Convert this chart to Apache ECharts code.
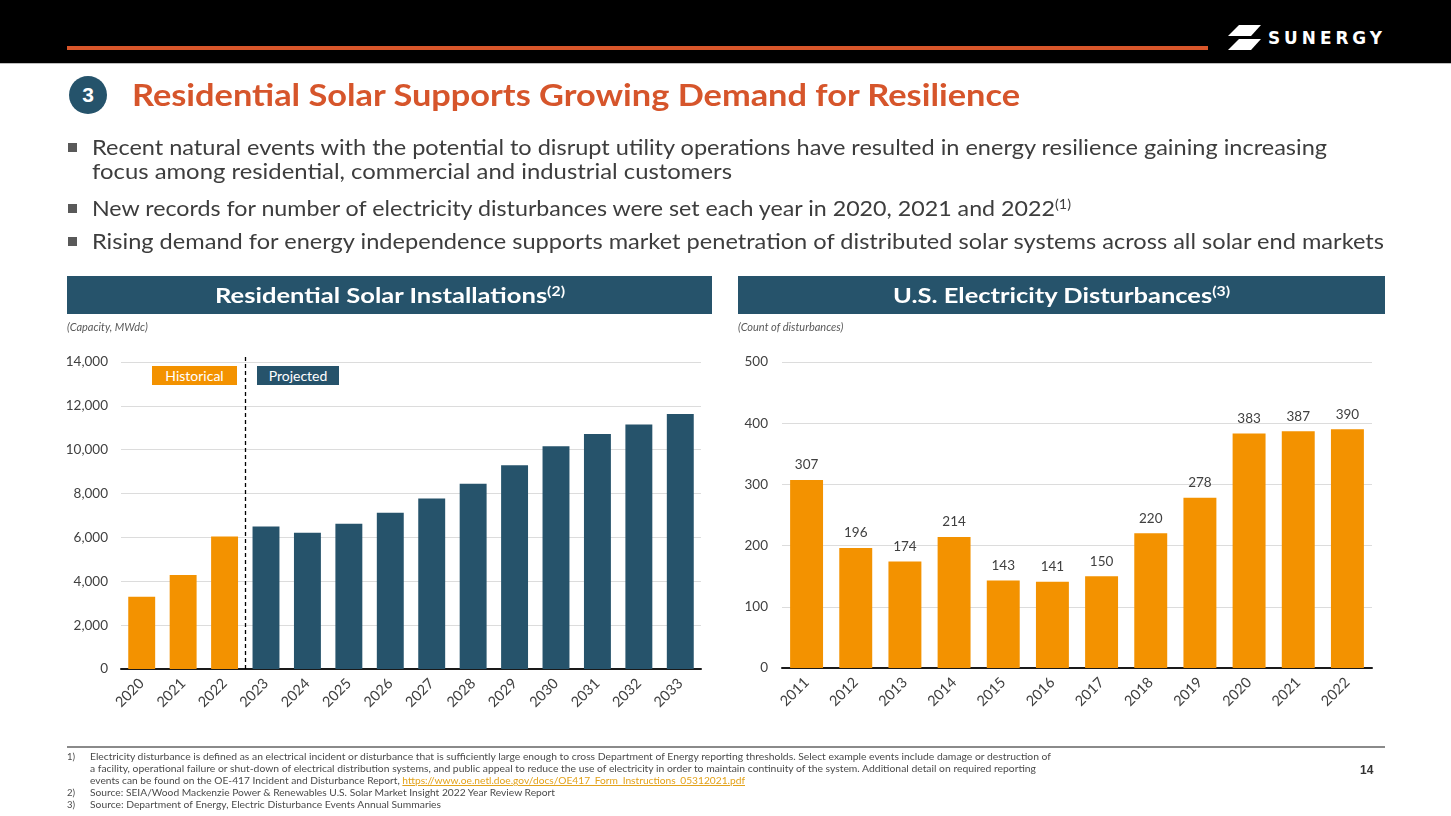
<!DOCTYPE html>
<html>
<head>
<meta charset="utf-8">
<script src="https://cdn.jsdelivr.net/npm/echarts@6/dist/echarts.min.js"></script>
<style>
  html, body { margin: 0; padding: 0; background: #fff; }
  body { width: 1451px; height: 816px; position: relative; overflow: hidden; font-family: Lato, "Noto Sans", sans-serif; }
  #chart { position: absolute; left: 0; top: 0; width: 1451px; height: 816px; }
  .abs { position: absolute; white-space: nowrap; }
  .fit { transform-origin: 0 50%; display: inline-block; }
  #band { left: 0; top: 0; width: 1451px; height: 63px; background: #000; border-bottom: 1px solid #bdbdbd; }
  #rule { left: 67px; top: 46px; width: 1141px; height: 4px; background: #d9562a; }
  #logo { left: 1268px; top: 26px; color: #fff; font-family: "DejaVu Sans", sans-serif; font-weight: bold; font-size: 17px; line-height: 24px; }
  #icon { left: 1228px; top: 25px; }
  #badge { left: 69px; top: 76px; width: 38px; height: 38px; border-radius: 50%; background: #25536b; color: #fff; font-weight: bold; font-size: 21px; line-height: 38px; text-align: center; font-family: "Liberation Sans", Arial, sans-serif; }
  #title { left: 132px; top: 74px; color: #d6552b; font-weight: bold; font-size: 31px; line-height: 40px; }
  .bullet { left: 68px; width: 9px; height: 9px; background: #595959; }
  .bl { left: 92px; color: #3d3d3d; font-size: 21px; line-height: 26px; }
  .bl sup, .ph sup { font-size: 0.62em; vertical-align: 0; position: relative; top: -0.55em; }
  .panel { top: 276px; height: 38px; background: #26536b; }
  .ph { color: #fff; font-weight: bold; font-size: 21px; line-height: 38px; top: 276px; }
  .unit { top: 319px; font-style: italic; font-size: 11px; color: #595959; line-height: 16px; }
  #footrule { left: 67px; top: 746px; width: 1318px; height: 2px; background: #8a8a8a; }
  .fn { font-size: 9.5px; color: #4a4a4a; line-height: 12px; }
  .fn a { color: #e3a21a; text-decoration: underline; }
  #pnum { left: 1360px; top: 763px; font-size: 12px; font-weight: bold; color: #333; font-family: "Liberation Sans", Arial, sans-serif; }
  .tag { top: 366px; height: 19px; color: #fff; font-size: 14px; line-height: 19px; text-align: center; }
</style>
</head>
<body>
<div id="chart"></div>

<div id="band" class="abs"></div>
<div id="rule" class="abs"></div>
<svg id="icon" class="abs" width="34" height="26" viewBox="0 0 34 26">
  <polygon points="11,0 33,0 23,11 0,11" fill="#fff"/>
  <polygon points="11,14 33,14 23,25 0,25" fill="#fff"/>
</svg>
<div id="logo" class="abs"><span class="fit" data-w="118" style="letter-spacing:4px">SUNERGY</span></div>

<div id="badge" class="abs">3</div>
<div id="title" class="abs"><span class="fit" data-w="888">Residential Solar Supports Growing Demand for Resilience</span></div>

<div class="abs bullet" style="top:143px"></div>
<div class="abs bl" style="top:134px"><span class="fit" data-w="1235">Recent natural events with the potential to disrupt utility operations have resulted in energy resilience gaining increasing</span></div>
<div class="abs bl" style="top:158px"><span class="fit" data-w="640">focus among residential, commercial and industrial customers</span></div>
<div class="abs bullet" style="top:204px"></div>
<div class="abs bl" style="top:195px"><span class="fit" data-w="979">New records for number of electricity disturbances were set each year in 2020, 2021 and 2022<sup>(1)</sup></span></div>
<div class="abs bullet" style="top:237px"></div>
<div class="abs bl" style="top:228px"><span class="fit" data-w="1292">Rising demand for energy independence supports market penetration of distributed solar systems across all solar end markets</span></div>

<div class="abs panel" style="left:67px;width:645px"></div>
<div class="abs panel" style="left:738px;width:647px"></div>
<div class="abs ph" style="left:215px"><span class="fit" data-w="350">Residential Solar Installations<sup>(2)</sup></span></div>
<div class="abs ph" style="left:893px"><span class="fit" data-w="337">U.S. Electricity Disturbances<sup>(3)</sup></span></div>
<div class="abs unit" style="left:67px">(Capacity, MWdc)</div>
<div class="abs unit" style="left:738px">(Count of disturbances)</div>

<div class="abs tag" style="left:152px;width:85px;background:#f39200">Historical</div>
<div class="abs tag" style="left:257px;width:82px;background:#26536b">Projected</div>

<div id="footrule" class="abs"></div>
<div class="abs fn" style="left:67px;top:751px">1)</div>
<div class="abs fn" style="left:90px;top:751px"><span class="fit" data-w="961">Electricity disturbance is defined as an electrical incident or disturbance that is sufficiently large enough to cross Department of Energy reporting thresholds. Select example events include damage or destruction of</span></div>
<div class="abs fn" style="left:90px;top:763px"><span class="fit" data-w="946">a facility, operational failure or shut-down of electrical distribution systems,  and public appeal to reduce the use of electricity in order to maintain continuity of the system.   Additional detail on required reporting</span></div>
<div class="abs fn" style="left:90px;top:775px"><span class="fit" data-w="655">events can be found on the OE-417 Incident and Disturbance Report, <a>https://www.oe.netl.doe.gov/docs/OE417_Form_Instructions_05312021.pdf</a></span></div>
<div class="abs fn" style="left:67px;top:787px">2)</div>
<div class="abs fn" style="left:90px;top:787px"><span class="fit" data-w="465">Source:  SEIA/Wood Mackenzie Power &amp; Renewables U.S. Solar Market Insight 2022 Year Review Report</span></div>
<div class="abs fn" style="left:67px;top:799px">3)</div>
<div class="abs fn" style="left:90px;top:799px"><span class="fit" data-w="351">Source: Department of Energy, Electric Disturbance Events Annual Summaries</span></div>
<div id="pnum" class="abs">14</div>

<script>
// ---- Data ----
const solarYears = ['2020','2021','2022','2023','2024','2025','2026','2027','2028','2029','2030','2031','2032','2033'];
const solarCapacity = [3300, 4290, 6040, 6500, 6210, 6620, 7120, 7780, 8450, 9290, 10160, 10720, 11150, 11630];
const solarPhase = ['Historical','Historical','Historical','Projected','Projected','Projected','Projected','Projected','Projected','Projected','Projected','Projected','Projected','Projected'];
const solarTicks = { min: 0, max: 14000, interval: 2000 };

const disturbYears = ['2011','2012','2013','2014','2015','2016','2017','2018','2019','2020','2021','2022'];
const disturbCounts = [307, 196, 174, 214, 143, 141, 150, 220, 278, 383, 387, 390];
const disturbTicks = { min: 0, max: 500, interval: 100 };

// ---- Styles ----
const ORANGE = '#f39200';
const TEAL = '#26536b';
const LABEL = '#404040';
const FONT = 'Lato, "Noto Sans", sans-serif';

// fit text spans to their measured widths
document.querySelectorAll('.fit').forEach(el => {
  const w = parseFloat(el.dataset.w);
  const actual = el.getBoundingClientRect().width;
  if (actual > 0) el.style.transform = 'scaleX(' + (w / actual) + ')';
});

const chart = echarts.init(document.getElementById('chart'), null, { renderer: 'canvas' });

const axisLabelStyle = { color: LABEL, fontSize: 13.5, fontFamily: FONT };
const xLabelStyle = { color: LABEL, fontSize: 14.5, fontFamily: FONT, rotate: 45, margin: 12, interval: 0 };

chart.setOption({
  animation: false,
  grid: [
    { left: 121, right: 1451 - 701, top: 362, bottom: 816 - 669, containLabel: false },
    { left: 782, right: 1451 - 1372, top: 362, bottom: 816 - 668, containLabel: false }
  ],
  xAxis: [
    {
      gridIndex: 0, type: 'category', data: solarYears,
      axisLine: { lineStyle: { color: '#1a1a1a', width: 2 } },
      axisTick: { show: false },
      axisLabel: xLabelStyle
    },
    {
      gridIndex: 1, type: 'category', data: disturbYears,
      axisLine: { lineStyle: { color: '#1a1a1a', width: 2 } },
      axisTick: { show: false },
      axisLabel: xLabelStyle
    }
  ],
  yAxis: [
    {
      gridIndex: 0, type: 'value', min: solarTicks.min, max: solarTicks.max, interval: solarTicks.interval,
      axisLine: { show: false }, axisTick: { show: false },
      splitLine: { lineStyle: { color: '#dcdcdc', width: 1 } },
      axisLabel: Object.assign({ margin: 13, formatter: v => v.toLocaleString('en-US') }, axisLabelStyle)
    },
    {
      gridIndex: 1, type: 'value', min: disturbTicks.min, max: disturbTicks.max, interval: disturbTicks.interval,
      axisLine: { show: false }, axisTick: { show: false },
      splitLine: { lineStyle: { color: '#dcdcdc', width: 1 } },
      axisLabel: Object.assign({ margin: 14 }, axisLabelStyle)
    }
  ],
  series: [
    {
      type: 'bar', xAxisIndex: 0, yAxisIndex: 0, barWidth: '65%',
      data: solarCapacity.map((v, i) => ({
        value: v,
        itemStyle: { color: solarPhase[i] === 'Historical' ? ORANGE : TEAL }
      }))
    },
    {
      type: 'bar', xAxisIndex: 1, yAxisIndex: 1, barWidth: '67%',
      itemStyle: { color: ORANGE },
      label: { show: true, position: 'top', distance: 8, color: LABEL, fontSize: 13.5, fontFamily: FONT },
      data: disturbCounts
    }
  ]
});

// dashed divider between the last historical and first projected year
const lastHist = solarPhase.lastIndexOf('Historical');
const p1 = chart.convertToPixel({ xAxisIndex: 0 }, solarYears[lastHist]);
const p2 = chart.convertToPixel({ xAxisIndex: 0 }, solarYears[lastHist + 1]);
const midX = Math.round((p1 + p2) / 2) + 0.5;
const yTop = chart.convertToPixel({ yAxisIndex: 0 }, solarTicks.max) - 5;
const yBot = chart.convertToPixel({ yAxisIndex: 0 }, 0);
chart.setOption({
  graphic: [{
    type: 'line', z: 100,
    shape: { x1: midX, y1: yTop, x2: midX, y2: yBot },
    style: { stroke: '#000', lineWidth: 1.3, lineDash: [4, 3] }
  }]
});
</script>
</body>
</html>
